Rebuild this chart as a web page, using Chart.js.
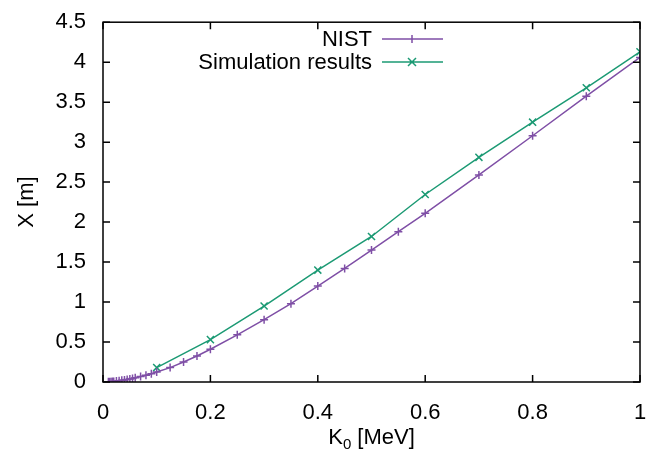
<!DOCTYPE html>
<html lang="en">
  <head>
    <meta charset="UTF-8" />
    <title>Range vs energy</title>
    <script src="https://cdn.jsdelivr.net/npm/chart.js"></script>
    <style>
      html, body { margin: 0; padding: 0; background: #fff; }
      #wrap { width: 659px; height: 453px; }
    </style>
  </head>
  <body>
    <div id="wrap"><canvas id="rangeChart"></canvas></div>
    <script>
      // NIST reference range
      const nistEnergy = [0.01, 0.0125, 0.015, 0.0175, 0.02, 0.025, 0.03, 0.035, 0.04, 0.045,
        0.05, 0.055, 0.06, 0.07, 0.08, 0.09, 0.1, 0.125, 0.15, 0.175, 0.2, 0.25, 0.3, 0.35,
        0.4, 0.45, 0.5, 0.55, 0.6, 0.7, 0.8, 0.9, 1.0];
      const nistRange = [0.002, 0.003, 0.004, 0.0055, 0.0075, 0.011, 0.016, 0.021, 0.026, 0.032,
        0.038, 0.045, 0.052, 0.068, 0.085, 0.104, 0.125, 0.18, 0.25, 0.325, 0.41, 0.59, 0.78, 0.98,
        1.2, 1.42, 1.65, 1.88, 2.11, 2.59, 3.08, 3.575, 4.06];

      // simulation
      const simEnergy = [0.1, 0.2, 0.3, 0.4, 0.5, 0.6, 0.7, 0.8, 0.9, 1.0];
      const simRange = [0.18, 0.53, 0.95, 1.4, 1.82, 2.345, 2.81, 3.25, 3.68, 4.13];

      const xTicks = [0, 0.2, 0.4, 0.6, 0.8, 1];
      const yTicks = [0, 0.5, 1, 1.5, 2, 2.5, 3, 3.5, 4, 4.5];

      const seriesNames = ["NIST", "Simulation results"];
      const purple = "#7f4fa6";
      const green = "#1c9a74";
      const font = "Liberation Sans";
      const fs = 22;

      const toXY = (xs, ys) => xs.map((x, i) => ({ x: x, y: ys[i] }));

      // gnuplot style frame: box, inward ticks on all sides, legend, x title with subscript
      const frame = {
        id: "frame",
        afterDraw(chart) {
          const { ctx, chartArea: a, scales } = chart;
          ctx.save();
          ctx.strokeStyle = "#000";
          ctx.lineWidth = 1.5;
          ctx.strokeRect(a.left, a.top, a.right - a.left, a.bottom - a.top);
          ctx.beginPath();
          xTicks.forEach((v) => {
            const px = scales.x.getPixelForValue(v);
            ctx.moveTo(px, a.bottom); ctx.lineTo(px, a.bottom - 7);
            ctx.moveTo(px, a.top); ctx.lineTo(px, a.top + 7);
          });
          yTicks.forEach((v) => {
            const py = scales.y.getPixelForValue(v);
            ctx.moveTo(a.left, py); ctx.lineTo(a.left + 7, py);
            ctx.moveTo(a.right, py); ctx.lineTo(a.right - 7, py);
          });
          ctx.stroke();

          // legend
          ctx.font = fs + "px '" + font + "'";
          ctx.textAlign = "right";
          ctx.textBaseline = "middle";
          chart.data.datasets.forEach((ds, i) => {
            const y = 39 + i * 23;
            ctx.fillStyle = "#000";
            ctx.fillText(seriesNames[i], 372, y + 1);
            ctx.strokeStyle = ds.borderColor;
            ctx.lineWidth = 1.5;
            ctx.beginPath();
            ctx.moveTo(382, y); ctx.lineTo(443, y);
            const r = 4;
            if (ds.pointStyle === "cross") {
              ctx.moveTo(412 - r, y); ctx.lineTo(412 + r, y);
              ctx.moveTo(412, y - r); ctx.lineTo(412, y + r);
            } else {
              ctx.moveTo(412 - r, y - r); ctx.lineTo(412 + r, y + r);
              ctx.moveTo(412 - r, y + r); ctx.lineTo(412 + r, y - r);
            }
            ctx.stroke();
          });

          // x axis title K0 [MeV]
          ctx.fillStyle = "#000";
          ctx.textAlign = "left";
          ctx.textBaseline = "alphabetic";
          const base = 444;
          ctx.font = fs + "px '" + font + "'";
          const wK = ctx.measureText("K").width;
          const wRest = ctx.measureText(" [MeV]").width;
          ctx.font = "15px '" + font + "'";
          const w0 = ctx.measureText("0").width;
          const total = wK + w0 + wRest;
          let sx = (a.left + a.right) / 2 - total / 2;
          ctx.font = fs + "px '" + font + "'";
          ctx.fillText("K", sx, base);
          ctx.font = "15px '" + font + "'";
          ctx.fillText("0", sx + wK, base + 5);
          ctx.font = fs + "px '" + font + "'";
          ctx.fillText(" [MeV]", sx + wK + w0, base);
          ctx.restore();
        },
      };

      const ctx = document.getElementById("rangeChart").getContext("2d");
      new Chart(ctx, {
        type: "line",
        data: {
          datasets: [
            {
              label: seriesNames[0],
              data: toXY(nistEnergy, nistRange),
              borderColor: purple,
              backgroundColor: purple,
              borderWidth: 1.5,
              pointStyle: "cross",
              pointRadius: 4,
              pointBorderWidth: 1.5,
              fill: false,
              tension: 0,
            },
            {
              label: seriesNames[1],
              data: toXY(simEnergy, simRange),
              borderColor: green,
              backgroundColor: green,
              borderWidth: 1.5,
              pointStyle: "crossRot",
              pointRadius: 5,
              pointBorderWidth: 1.5,
              fill: false,
              tension: 0,
            },
          ],
        },
        options: {
          responsive: true,
          maintainAspectRatio: false,
          animation: false,
          layout: { padding: { top: 21, right: 19, left: 0, bottom: 0 } },
          scales: {
            x: {
              type: "linear",
              min: 0,
              max: 1,
              grid: { display: false },
              border: { display: false },
              afterFit: (s) => { s.height = 71; },
              afterBuildTicks: (s) => { s.ticks = xTicks.map((v) => ({ value: v })); },
              ticks: {
                color: "#000",
                padding: 10,
                maxRotation: 0,
                font: { family: font, size: fs },
                callback: (v) => String(v),
              },
            },
            y: {
              type: "linear",
              min: 0,
              max: 4.5,
              grid: { display: false },
              border: { display: false },
              afterFit: (s) => { s.width = 103; },
              afterBuildTicks: (s) => { s.ticks = yTicks.map((v) => ({ value: v })); },
              ticks: {
                color: "#000",
                padding: 9,
                font: { family: font, size: fs },
                callback: (v) => String(v),
              },
              title: {
                display: true,
                text: "X [m]",
                color: "#000",
                font: { family: font, size: fs },
                padding: { top: 14, bottom: 0 },
              },
            },
          },
          plugins: {
            legend: { display: false },
            tooltip: { enabled: false },
          },
        },
        plugins: [frame],
      });
    </script>
  </body>
</html>
